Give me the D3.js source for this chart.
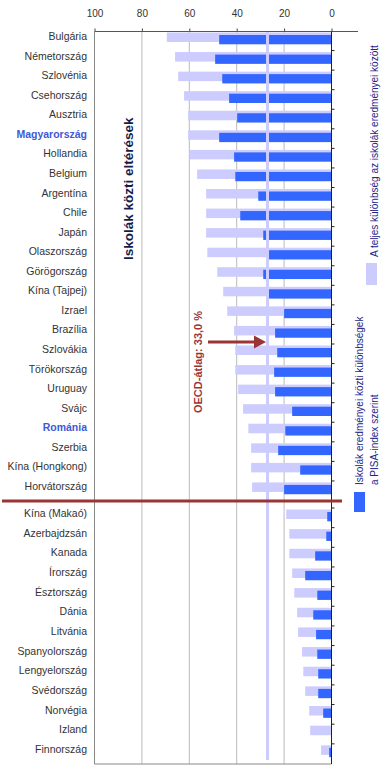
<!DOCTYPE html>
<html>
<head>
<meta charset="utf-8">
<script src="https://cdn.jsdelivr.net/npm/d3@7"></script>
<style>
  body { margin: 0; background: #fff; }
  svg { font-family: "Liberation Sans", Arial, sans-serif; }
</style>
</head>
<body>
<div class="container"></div>
<script>
// data
const countries = ['Bulgária', 'Németország', 'Szlovénia', 'Csehország', 'Ausztria', 'Magyarország',
  'Hollandia', 'Belgium', 'Argentína', 'Chile', 'Japán', 'Olaszország', 'Görögország', 'Kína (Tajpej)',
  'Izrael', 'Brazília', 'Szlovákia', 'Törökország', 'Uruguay', 'Svájc', 'Románia', 'Szerbia',
  'Kína (Hongkong)', 'Horvátország', 'Kína (Makaó)', 'Azerbajdzsán', 'Kanada', 'Írország', 'Észtország',
  'Dánia', 'Litvánia', 'Spanyolország', 'Lengyelország', 'Svédország', 'Norvégia', 'Izland', 'Finnország']
const totalDiff = [69.5, 66.0, 64.7, 62.2, 60.5, 60.5, 59.7, 56.7, 52.9, 52.9, 52.9, 52.4, 48.2, 45.7,
  44.0, 41.1, 40.6, 40.6, 39.4, 37.3, 35.1, 33.9, 33.9, 33.5, 19.1, 17.8, 17.8, 16.6, 15.7, 14.5,
  14.1, 12.4, 11.9, 11.1, 9.4, 9.0, 4.4]
const pisaDiff = [47.4, 49.1, 46.1, 43.2, 39.8, 47.4, 41.1, 40.6, 30.9, 38.5, 28.8, 27.0, 28.8, 27.0,
  20.0, 23.8, 22.9, 24.2, 23.8, 16.6, 19.5, 22.5, 13.2, 20.0, 1.8, 2.2, 6.9, 11.1, 6.0, 7.7,
  6.5, 6.0, 5.6, 5.6, 3.5, 0, 1.0]
const highlighted = ['Magyarország', 'Románia']
const breakAfter = 'Horvátország'
const xTicks = [100, 80, 60, 40, 20, 0]
const oecdPos = 27
const oecdLabel = 'OECD-átlag: 33,0 %'
const legendLabels = ['A teljes különbség az iskolák eredményei között',
  'Iskolák eredményei közti különbségek', 'a PISA-index szerint']
const sideTitle = 'Iskolák közti eltérések'

const lightCol = '#ccccff', blueCol = '#3366ff', redCol = '#9b3535'

const svg = d3.select('.container').append('svg')
  .attr('width', 385).attr('height', 769)

const x = d3.scaleLinear().domain([100, 0]).range([94.5, 331.5])

const rows = countries.map((c, i) => ({ c, total: totalDiff[i], pisa: pisaDiff[i] }))
const cut = countries.indexOf(breakAfter) + 1
const topRows = rows.slice(0, cut), botRows = rows.slice(cut)

const yTop = d3.scaleBand().domain(topRows.map(d => d.c)).range([31.5, 501])
const yBot = d3.scaleBand().domain(botRows.map(d => d.c)).range([508.5, 764])
const y = c => yTop.domain().includes(c) ? yTop(c) : yBot(c)

const plotTop = 31.5, plotBottom = 764

// grid
svg.append('g').selectAll('line')
  .data([80, 60, 40, 20])
  .enter().append('line')
  .attr('x1', d => x(d)).attr('x2', d => x(d))
  .attr('y1', plotTop).attr('y2', plotBottom)
  .attr('stroke', '#bbb')

// bars
const bars = svg.append('g')
bars.selectAll('.total')
  .data(rows).enter().append('rect')
  .attr('class', 'total')
  .attr('x', d => x(d.total)).attr('width', d => x(0) - x(d.total))
  .attr('y', d => y(d.c) + 1).attr('height', 9.5)
  .attr('fill', lightCol)
bars.selectAll('.pisa')
  .data(rows).enter().append('rect')
  .attr('class', 'pisa')
  .attr('x', d => x(d.pisa)).attr('width', d => x(0) - x(d.pisa))
  .attr('y', d => y(d.c) + 3.5).attr('height', 9.3)
  .attr('fill', blueCol)

// OECD line
svg.append('line')
  .attr('x1', x(oecdPos)).attr('x2', x(oecdPos))
  .attr('y1', plotTop).attr('y2', 760)
  .attr('stroke', lightCol).attr('stroke-width', 3)

// axes
const xAxis = svg.append('g')
  .attr('transform', `translate(0,${plotTop})`)
  .call(d3.axisTop(x).tickValues(xTicks).tickSize(3).tickSizeOuter(0).tickPadding(12))
xAxis.select('.domain').remove()
xAxis.selectAll('text').style('font-size', '10px').attr('fill', '#333')
  .style('font-family', '"Liberation Sans", Arial, sans-serif')
xAxis.selectAll('line').attr('stroke', '#444')

svg.append('line').attr('x1', x(100)).attr('x2', 358).attr('y1', plotTop).attr('y2', plotTop)
  .attr('stroke', '#555')
svg.append('line').attr('x1', x(100)).attr('x2', x(100)).attr('y1', plotTop).attr('y2', plotBottom)
  .attr('stroke', '#888')
svg.append('line').attr('x1', x(100)).attr('x2', x(0)).attr('y1', plotBottom).attr('y2', plotBottom)
  .attr('stroke', '#888')
svg.append('line').attr('x1', x(0)).attr('x2', x(0)).attr('y1', plotTop).attr('y2', plotBottom)
  .attr('stroke', '#222')
svg.append('g').selectAll('line')
  .data(rows.slice(1)).enter().append('line')
  .attr('x1', x(0)).attr('x2', x(0) + 3)
  .attr('y1', d => y(d.c) - 0.5).attr('y2', d => y(d.c) - 0.5)
  .attr('stroke', '#222')

// category labels
svg.append('g').selectAll('text')
  .data(rows).enter().append('text')
  .attr('x', 87).attr('y', d => y(d.c) + 8.5)
  .attr('text-anchor', 'end')
  .style('font-size', '10.5px')
  .style('font-weight', d => highlighted.includes(d.c) ? 'bold' : 'normal')
  .attr('fill', d => highlighted.includes(d.c) ? '#3d5bd6' : '#333')
  .text(d => d.c)

// red separator
svg.append('line')
  .attr('x1', 2).attr('x2', 342).attr('y1', 501).attr('y2', 501)
  .attr('stroke', redCol).attr('stroke-width', 3)

// OECD label + arrow
svg.append('text')
  .attr('transform', 'translate(202,362) rotate(-90)')
  .attr('text-anchor', 'middle')
  .style('font-size', '11px').style('font-weight', 'bold')
  .attr('fill', redCol)
  .text(oecdLabel)
svg.append('line')
  .attr('x1', 208).attr('x2', 256).attr('y1', 342).attr('y2', 342)
  .attr('stroke', redCol).attr('stroke-width', 3)
svg.append('path')
  .attr('d', `M${x(oecdPos) - 1.5},342 L254,335.5 L254,348.5 Z`)
  .attr('fill', redCol)

// side title
svg.append('text')
  .attr('transform', 'translate(133,260) rotate(-90)')
  .style('font-size', '13.5px').style('font-weight', 'bold')
  .attr('fill', '#161b4a')
  .text(sideTitle)

// legend
svg.append('rect').attr('x', 366).attr('y', 263).attr('width', 11).attr('height', 22)
  .attr('fill', lightCol)
svg.append('text')
  .attr('transform', 'translate(378,257) rotate(-90)')
  .style('font-size', '10px').attr('fill', '#24248a')
  .text(legendLabels[0])
svg.append('rect').attr('x', 354).attr('y', 492).attr('width', 11).attr('height', 20)
  .attr('fill', blueCol)
svg.append('text')
  .attr('transform', 'translate(363,485) rotate(-90)')
  .style('font-size', '10px').attr('fill', '#24248a')
  .text(legendLabels[1])
svg.append('text')
  .attr('transform', 'translate(378,485) rotate(-90)')
  .style('font-size', '10px').attr('fill', '#24248a')
  .text(legendLabels[2])
</script>
</body>
</html>
